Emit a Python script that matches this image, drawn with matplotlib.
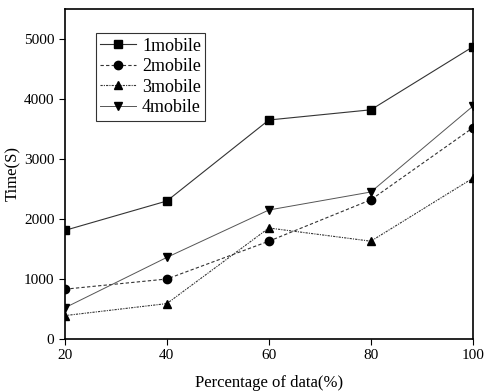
import matplotlib
matplotlib.use("Agg")
import matplotlib.pyplot as plt

plt.rcParams['font.family'] = ['Liberation Serif', 'DejaVu Serif']

# data
pct = [20, 40, 60, 80, 100]
mobile1 = [1810, 2300, 3650, 3820, 4870]
mobile2 = [830, 1000, 1630, 2320, 3520]
mobile3 = [390, 590, 1850, 1630, 2680]
mobile4 = [520, 1360, 2150, 2450, 3880]

fig = plt.figure(figsize=(4.84, 3.91), dpi=100)
ax = fig.add_axes([0.134, 0.133, 0.843, 0.844])

ax.plot(pct, mobile1, '-', color='#333333', lw=0.8, marker='s', ms=5.5, mfc='black', mec='black', label='1mobile')
ax.plot(pct, mobile2, '--', color='#333333', lw=0.8, marker='o', ms=6, mfc='black', mec='black', label='2mobile', dashes=(3, 2))
ax.plot(pct, mobile3, ':', color='#333333', lw=0.8, marker='^', ms=6, mfc='black', mec='black', label='3mobile', dashes=(2, 1, 1, 1))
ax.plot(pct, mobile4, '-', color='#555555', lw=0.7, marker='v', ms=6, mfc='black', mec='black', label='4mobile')

ax.set_xlim(20, 100)
ax.set_ylim(0, 5500)
ax.set_xticks([20, 40, 60, 80, 100])
ax.set_yticks([0, 1000, 2000, 3000, 4000, 5000])
ax.tick_params(direction='out', labelsize=11, top=False, right=False, length=4)
for s in ax.spines.values():
    s.set_linewidth(1.2)

ax.set_xlabel('Percentage of data(%)', fontsize=12, labelpad=9)
ax.set_ylabel('Time(S)', fontsize=12, labelpad=2)

leg = ax.legend(loc='upper left', bbox_to_anchor=(0.076, 0.927), borderaxespad=0, fontsize=13,
                fancybox=False, edgecolor='black', handlelength=2.0, borderpad=0.25,
                labelspacing=0.2, handletextpad=0.3)
leg.get_frame().set_linewidth(0.8)

fig.savefig('out.png', dpi=100)
